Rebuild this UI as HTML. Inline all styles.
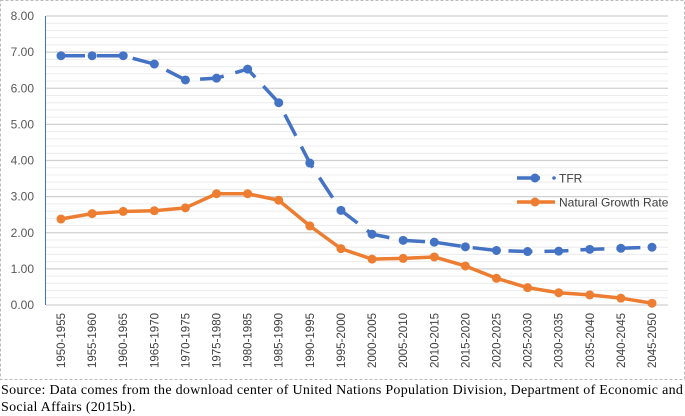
<!DOCTYPE html>
<html><head><meta charset="utf-8"><style>
body{margin:0;background:#fff;width:685px;height:416px;overflow:hidden}
.src{position:absolute;left:1px;top:382px;width:690px;font:14px "Liberation Serif",serif;color:#000;line-height:17px;white-space:nowrap;letter-spacing:0.28px}
</style></head><body>
<svg id="c" width="685" height="416" style="position:absolute;left:0;top:0" xmlns="http://www.w3.org/2000/svg"></svg>
<div class="src">Source: Data comes from the download center of United Nations Population Division, Department of Economic and<br>Social Affairs (2015b).</div>
<script>
const categories=["1950-1955","1955-1960","1960-1965","1965-1970","1970-1975","1975-1980","1980-1985","1985-1990","1990-1995","1995-2000","2000-2005","2005-2010","2010-2015","2015-2020","2020-2025","2025-2030","2030-2035","2035-2040","2040-2045","2045-2050"];
const tfr=[6.9,6.9,6.9,6.67,6.23,6.28,6.53,5.6,3.93,2.62,1.96,1.79,1.74,1.61,1.51,1.48,1.49,1.54,1.57,1.6];
const ngr=[2.38,2.53,2.59,2.61,2.69,3.08,3.08,2.9,2.19,1.56,1.27,1.29,1.33,1.08,0.74,0.48,0.34,0.28,0.19,0.05];
const yTicks=[0,1,2,3,4,5,6,7,8];
const NS="http://www.w3.org/2000/svg";
const svg=document.getElementById('c');
const X0=61,X1=652,Y0=305,Y8=16;
const x=i=>X0+i*(X1-X0)/(categories.length-1);
const y=v=>Y0-(v/8)*(Y0-Y8);
function mk(t,a){const e=document.createElementNS(NS,t);for(const k in a)e.setAttribute(k,a[k]);svg.appendChild(e);return e;}
const frame=mk('rect',{x:0.5,y:0.5,width:684,height:379,fill:'none',stroke:'#bbb','stroke-dasharray':'3,2'});


for(let v=0;v<=8.001;v+=0.2){
  const major=Math.abs(v-Math.round(v))<0.01;
  const g=mk('line',{x1:46,x2:668,y1:y(v),y2:y(v),stroke:major?'#d0d0d0':'#ececec','stroke-width':major?1.2:1});
  
  
}
yTicks.forEach(v=>{
  const t=mk('text',{x:34,y:y(v)+4,'text-anchor':'end','font-family':'Liberation Sans,sans-serif','font-size':12,fill:'#595959'});
  t.textContent=v.toFixed(2);
  
  
});
const ax=mk('line',{x1:45.5,x2:45.5,y1:16,y2:305,stroke:'#4472c4','stroke-width':1});


categories.forEach((c,i)=>{
  const t=mk('text',{transform:`translate(${x(i)+4},313) rotate(-90)`,'text-anchor':'end','font-family':'Liberation Sans,sans-serif','font-size':11.5,fill:'#404040'});
  t.textContent=c;
  
  
});
function series(vals,color,dash,name){
  const p=mk('polyline',{points:vals.map((v,i)=>x(i)+','+y(v)).join(' '),fill:'none',stroke:color,'stroke-width':3.5,'stroke-dasharray':dash||'none','stroke-linejoin':'round'});
  
  
  vals.forEach((v,i)=>{
    const m=mk('circle',{cx:x(i),cy:y(v),r:4.5,fill:color});
    
    
  });
}
series(ngr,'#ed7d31',null,'ngr');
series(tfr,'#4472c4','24,12','tfr');
function legend(yy,color,label,name,dashed){
  const l=mk('line',{x1:517,x2:dashed?540:555,y1:yy,y2:yy,stroke:color,'stroke-width':3.5});
  
  
  if(dashed){const d=mk('circle',{cx:554,cy:yy,r:1.8,fill:color});}
  const c=mk('circle',{cx:535,cy:yy,r:4.5,fill:color});
  
  
  const t=mk('text',{x:559,y:yy+4.5,'font-family':'Liberation Sans,sans-serif','font-size':12,fill:'#404040'});
  t.textContent=label;
  
  
}
legend(178,'#4472c4','TFR','tfr',true);
legend(202,'#ed7d31','Natural Growth Rate','ngr',false);
</script>
</body></html>
